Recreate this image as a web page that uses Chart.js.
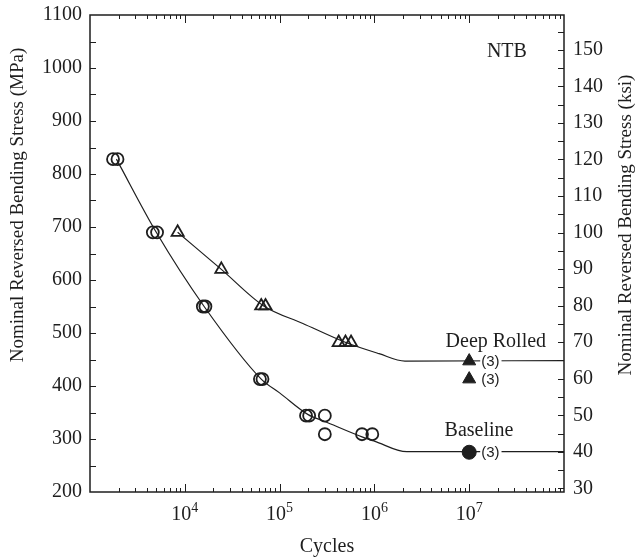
<!DOCTYPE html>
<html>
<head>
<meta charset="utf-8">
<script src="https://cdn.jsdelivr.net/npm/chart.js@4.4.1/dist/chart.umd.min.js"></script>
<style>
body{margin:0;background:#fff;}
</style>
</head>
<body>
<canvas id="sn" width="640" height="558"></canvas>
<script>
const serif = "'Liberation Serif', 'Times New Roman', serif";
const sans = "'Liberation Sans', Arial, sans-serif";
const ink = '#1e1e1e';
const MPA_PER_KSI = 6.895;

// baseline specimens (open circles) and runout
const baseCycles = [1.75e3, 1.95e3, 4.6e3, 5.1e3, 1.55e4, 1.65e4, 6.2e4, 6.6e4, 1.9e5, 2.05e5, 3.0e5, 3.0e5, 7.4e5, 9.5e5];
const baseStress = [828, 828, 690, 690, 550, 550, 413, 413, 344, 344, 344, 309, 309, 309];
const baseRunCycles = [1e7];
const baseRunStress = [275];

// deep rolled specimens (open triangles) and runouts
const rolledCycles = [8.4e3, 2.43e4, 6.4e4, 7.1e4, 4.2e5, 4.95e5, 5.67e5];
const rolledStress = [690, 620, 551, 551, 482, 482, 482];
const rolledRunCycles = [1e7, 1e7];
const rolledRunStress = [447, 413];

// fitted curves
const baseFitCycles = [1.9e3, 5e3, 1.6e4, 6.4e4, 1e5, 2e5, 3e5, 7.4e5, 1e6, 2.2e6, 1e8];
const baseFitStress = [828, 690, 550, 413, 387, 346, 333, 304, 296, 276, 276];
const rolledFitCycles = [8.4e3, 2.43e4, 6.8e4, 1.76e5, 5e5, 1.12e6, 2.1e6, 1e8];
const rolledFitStress = [690, 620, 551, 518, 482, 461, 447, 448];

const xTicks = [1e4, 1e5, 1e6, 1e7];
const mpaTicks = [200, 300, 400, 500, 600, 700, 800, 900, 1000, 1100];
const ksiTicks = [30, 40, 50, 60, 70, 80, 90, 100, 110, 120, 130, 140, 150];

const notes = [
  {text: 'NTB', x: 2.5e7, y: 1021},
  {text: 'Deep Rolled', x: 1.91e7, y: 474},
  {text: 'Baseline', x: 1.27e7, y: 306}
];

function pts(xs, ys) {
  return xs.map((v, i) => ({x: v, y: ys[i]}));
}

const decor = {
  id: 'decor',
  afterDatasetsDraw(chart) {
    const {ctx, chartArea: a, scales} = chart;
    const x = scales.x, y = scales.y, k = scales.k;
    ctx.save();

    // "(3)" next to the runouts, blanking the curve behind it
    ctx.font = '15px ' + sans;
    ctx.textBaseline = 'middle';
    ctx.textAlign = 'left';
    chart.data.datasets.forEach((ds, i) => {
      if (!ds.runout) return;
      chart.getDatasetMeta(i).data.forEach(el => {
        const w = ctx.measureText('(3)').width;
        ctx.fillStyle = '#fff';
        ctx.fillRect(el.x + 11, el.y - 8, w + 3, 16);
        ctx.fillStyle = ink;
        ctx.fillText('(3)', el.x + 12, el.y + 1);
      });
    });

    // frame
    ctx.strokeStyle = ink;
    ctx.lineWidth = 1.5;
    ctx.strokeRect(a.left, a.top, a.width, a.height);

    // inward ticks
    ctx.lineWidth = 1;
    ctx.beginPath();
    for (let d = x.min; d < x.max; d *= 10) {
      for (let m = 1; m < 10; m++) {
        const v = d * m;
        if (v <= x.min || v >= x.max) continue;
        const px = Math.round(x.getPixelForValue(v)) + 0.5;
        const len = m === 1 ? 8 : 4;
        ctx.moveTo(px, a.bottom); ctx.lineTo(px, a.bottom - len);
        ctx.moveTo(px, a.top); ctx.lineTo(px, a.top + len);
      }
    }
    for (let v = y.min + 50; v < y.max; v += 50) {
      const py = Math.round(y.getPixelForValue(v)) + 0.5;
      ctx.moveTo(a.left, py); ctx.lineTo(a.left + 6, py);
    }
    for (let v = 30; v <= 155; v += 5) {
      const py = Math.round(k.getPixelForValue(v)) + 0.5;
      ctx.moveTo(a.right, py); ctx.lineTo(a.right - 6, py);
    }
    ctx.stroke();

    // x tick labels with superscript exponent
    ctx.fillStyle = ink;
    ctx.textBaseline = 'alphabetic';
    xTicks.forEach(v => {
      const px = x.getPixelForValue(v);
      const exp = String(Math.round(Math.log10(v)));
      ctx.font = '20px ' + serif;
      const w1 = ctx.measureText('10').width;
      ctx.font = '14px ' + serif;
      const w2 = ctx.measureText(exp).width;
      const x0 = px - (w1 + w2) / 2;
      ctx.font = '20px ' + serif;
      ctx.fillText('10', x0, a.bottom + 28);
      ctx.font = '14px ' + serif;
      ctx.fillText(exp, x0 + w1, a.bottom + 20);
    });

    // notes
    ctx.font = '20px ' + serif;
    ctx.textAlign = 'center';
    notes.forEach(n => {
      ctx.fillText(n.text, x.getPixelForValue(n.x), y.getPixelForValue(n.y));
    });

    // axis titles
    ctx.fillText('Cycles', (a.left + a.right) / 2, 552);
    ctx.font = '19px ' + serif;
    ctx.textBaseline = 'middle';
    ctx.save();
    ctx.translate(18, 205);
    ctx.rotate(-Math.PI / 2);
    ctx.fillText('Nominal Reversed Bending Stress (MPa)', 0, 0);
    ctx.restore();
    ctx.save();
    ctx.translate(626, 225);
    ctx.rotate(-Math.PI / 2);
    ctx.fillText('Nominal Reversed Bending Stress (ksi)', 0, 0);
    ctx.restore();

    ctx.restore();
  }
};

new Chart(document.getElementById('sn'), {
  type: 'scatter',
  data: {
    datasets: [
      {
        data: pts(baseFitCycles, baseFitStress),
        showLine: true, pointRadius: 0, borderColor: ink, borderWidth: 1.2,
        cubicInterpolationMode: 'monotone'
      },
      {
        data: pts(rolledFitCycles, rolledFitStress),
        showLine: true, pointRadius: 0, borderColor: ink, borderWidth: 1.2,
        cubicInterpolationMode: 'monotone'
      },
      {
        data: pts(baseCycles, baseStress),
        pointStyle: 'circle', pointRadius: 6, borderWidth: 1.8,
        borderColor: ink, backgroundColor: 'rgba(0,0,0,0)'
      },
      {
        data: pts(rolledCycles, rolledStress),
        pointStyle: 'triangle', pointRadius: 7, borderWidth: 1.8,
        borderColor: ink, backgroundColor: 'rgba(0,0,0,0)'
      },
      {
        data: pts(baseRunCycles, baseRunStress), runout: true,
        pointStyle: 'circle', pointRadius: 7, borderWidth: 1,
        borderColor: ink, backgroundColor: ink
      },
      {
        data: pts(rolledRunCycles, rolledRunStress), runout: true,
        pointStyle: 'triangle', pointRadius: 7.5, borderWidth: 1,
        borderColor: ink, backgroundColor: ink
      }
    ]
  },
  options: {
    responsive: false,
    animation: false,
    layout: {padding: {top: 15, left: 0, right: 0, bottom: 0}},
    plugins: {legend: {display: false}, tooltip: {enabled: false}},
    scales: {
      x: {
        type: 'logarithmic', min: 1e3, max: 1e8,
        grid: {display: false, drawTicks: false}, border: {display: false},
        ticks: {display: false},
        afterBuildTicks: s => { s.ticks = xTicks.map(v => ({value: v})); },
        afterFit: s => { s.height = 66; s.paddingLeft = 0; s.paddingRight = 0; }
      },
      y: {
        position: 'left', min: 200, max: 1100,
        grid: {display: false, drawTicks: false}, border: {display: false},
        ticks: {color: ink, padding: 8, autoSkip: false, font: {family: serif, size: 20},
          callback: v => String(v)},
        afterBuildTicks: s => { s.ticks = mpaTicks.map(v => ({value: v})); },
        afterFit: s => { s.width = 90; s.paddingTop = 0; s.paddingBottom = 0; }
      },
      k: {
        position: 'right', min: 200 / MPA_PER_KSI, max: 1100 / MPA_PER_KSI,
        grid: {display: false, drawTicks: false}, border: {display: false},
        ticks: {color: ink, padding: 9, autoSkip: false, font: {family: serif, size: 20},
          callback: v => String(v)},
        afterBuildTicks: s => { s.ticks = ksiTicks.map(v => ({value: v})); },
        afterFit: s => { s.width = 76; s.paddingTop = 0; s.paddingBottom = 0; }
      }
    }
  },
  plugins: [decor]
});
</script>
</body>
</html>
